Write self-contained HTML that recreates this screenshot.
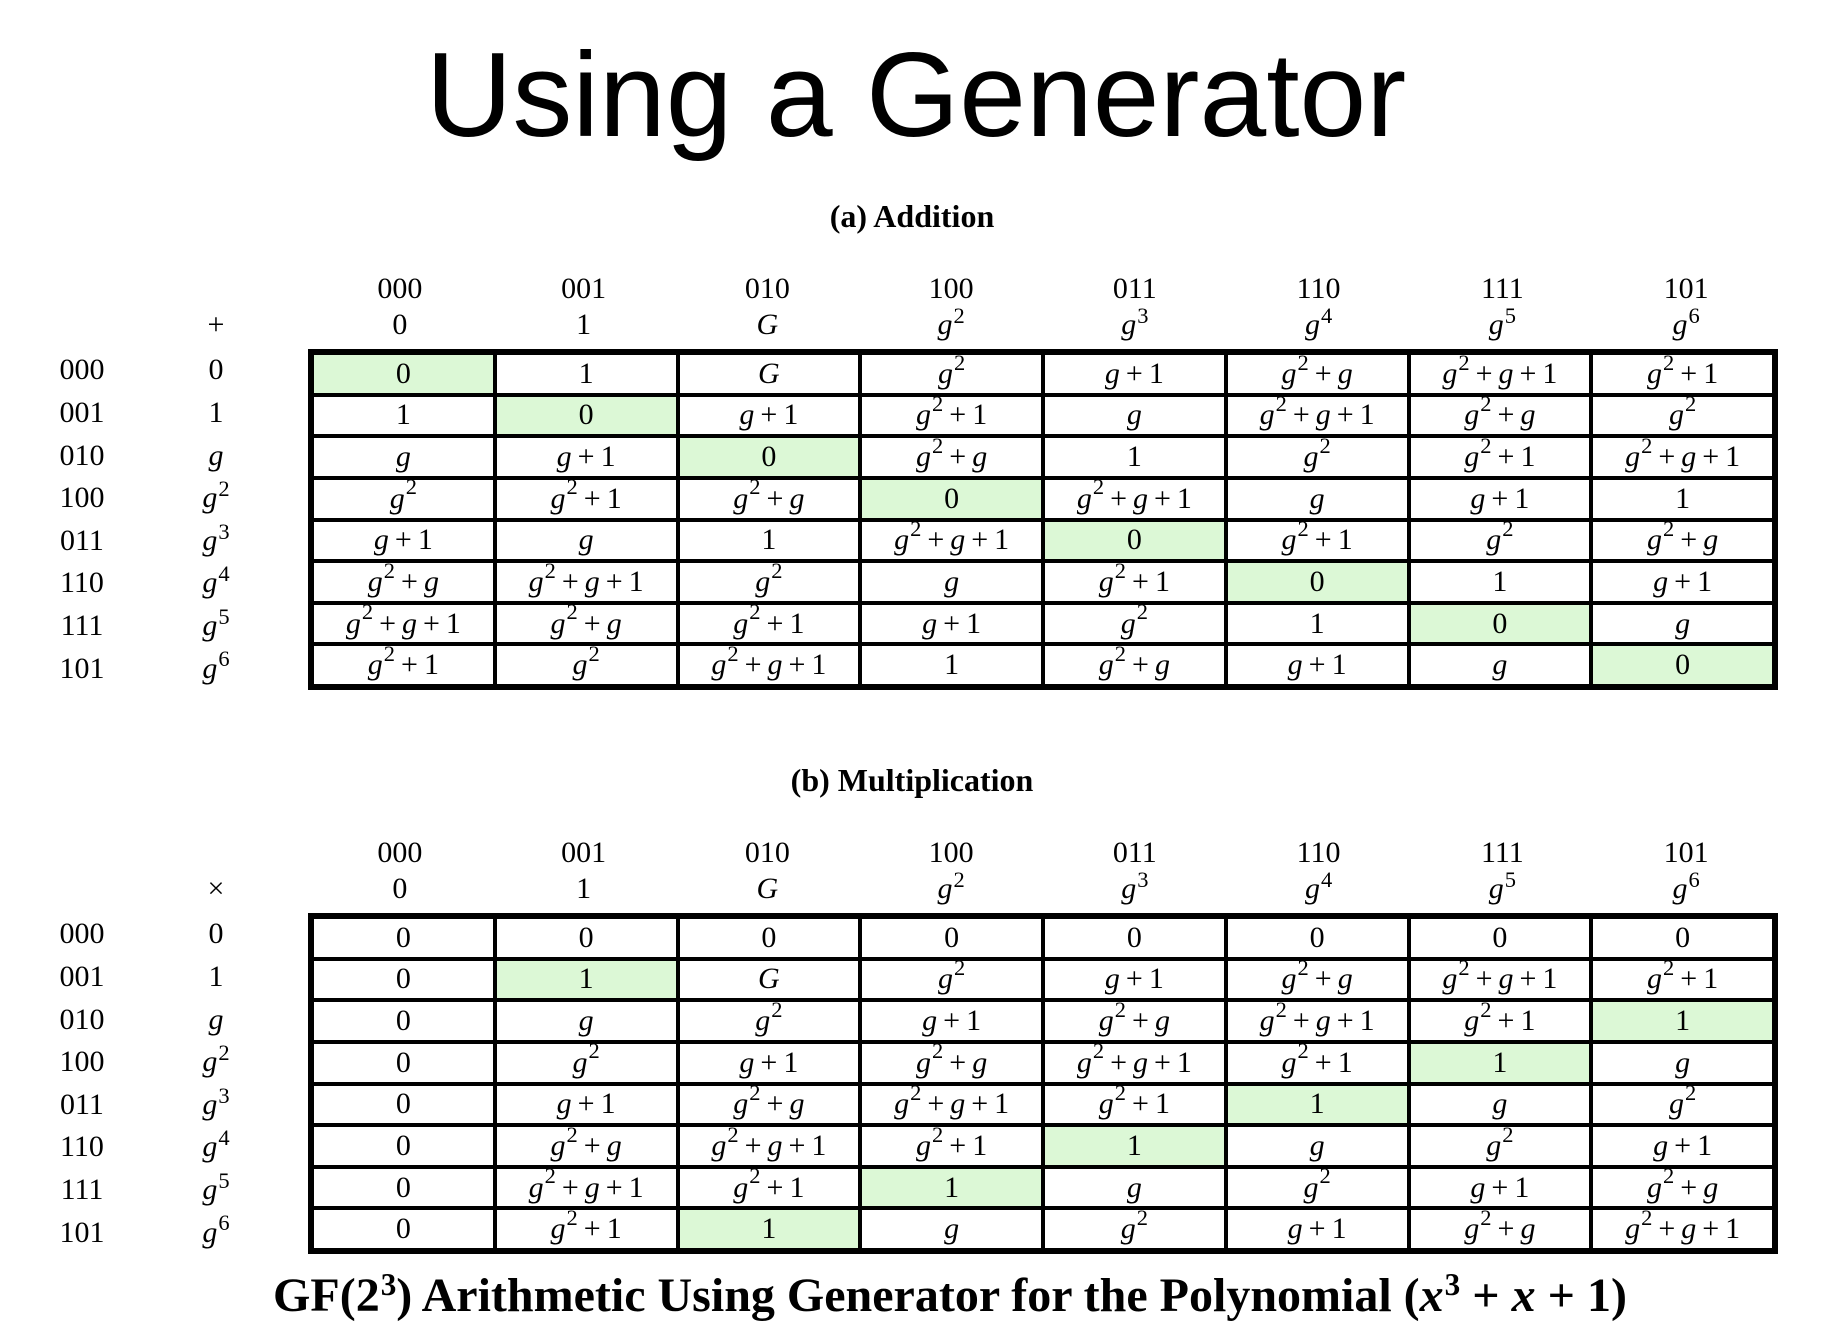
<!DOCTYPE html>
<html><head><meta charset="utf-8"><style>
body{margin:0;width:1848px;height:1330px;background:#fff;position:relative;overflow:hidden;font-family:"Liberation Serif",serif;color:#000}
.abs{position:absolute}
#title{left:0;width:1848px;top:30px;text-align:center;font-family:"Liberation Sans","Noto Sans CJK KR",sans-serif;font-size:120px;line-height:130px;margin-left:-8px}
.sub{left:0;width:1848px;text-align:center;font-weight:bold;font-size:32px;margin-left:-12px}
.t{font-size:30px;text-align:center;line-height:34px;white-space:nowrap}
i{font-style:italic}
sup{font-size:75%;vertical-align:0;position:relative;top:-0.5em;margin-left:1px}
.pl{margin:0 6px}
.grid{border:4px solid #000;box-sizing:border-box}
.cell{box-sizing:border-box;border:2px solid #000;display:flex;align-items:center;justify-content:center;font-size:30px;white-space:nowrap}
.green{background:#dcf8d6}
#caption{left:0;width:1848px;top:1268px;text-align:center;font-weight:bold;font-size:48px;margin-left:26px}
#caption sup{font-size:65%}
</style></head><body>
<div id="title" class="abs">Using a Generator</div>
<div class="abs sub" style="top:198px">(a) Addition</div>
<div class="abs sub" style="top:762px">(b) Multiplication</div>
<div id="caption" class="abs">GF(2<sup>3</sup>) Arithmetic Using Generator for the Polynomial (<i>x</i><sup>3</sup> + <i>x</i> + 1)</div>
<script>
const binLabels=["000","001","010","100","011","110","111","101"];
const genLabels=["0","1","g","g^2","g^3","g^4","g^5","g^6"];
const colGen=["0","1","G","g^2","g^3","g^4","g^5","g^6"];
const addRows=[
["0","1","G","g^2","g+1","g^2+g","g^2+g+1","g^2+1"],
["1","0","g+1","g^2+1","g","g^2+g+1","g^2+g","g^2"],
["g","g+1","0","g^2+g","1","g^2","g^2+1","g^2+g+1"],
["g^2","g^2+1","g^2+g","0","g^2+g+1","g","g+1","1"],
["g+1","g","1","g^2+g+1","0","g^2+1","g^2","g^2+g"],
["g^2+g","g^2+g+1","g^2","g","g^2+1","0","1","g+1"],
["g^2+g+1","g^2+g","g^2+1","g+1","g^2","1","0","g"],
["g^2+1","g^2","g^2+g+1","1","g^2+g","g+1","g","0"]];
const mulRows=[
["0","0","0","0","0","0","0","0"],
["0","1","G","g^2","g+1","g^2+g","g^2+g+1","g^2+1"],
["0","g","g^2","g+1","g^2+g","g^2+g+1","g^2+1","1"],
["0","g^2","g+1","g^2+g","g^2+g+1","g^2+1","1","g"],
["0","g+1","g^2+g","g^2+g+1","g^2+1","1","g","g^2"],
["0","g^2+g","g^2+g+1","g^2+1","1","g","g^2","g+1"],
["0","g^2+g+1","g^2+1","1","g","g^2","g+1","g^2+g"],
["0","g^2+1","1","g","g^2","g+1","g^2+g","g^2+g+1"]];
function fmt(s){
  return s.split("+").map(p=>{
    if(p==="G")return "<i>G</i>";
    if(p.startsWith("g")){const e=p.split("^")[1];return "<i>g</i>"+(e?"<sup>"+e+"</sup>":"");}
    return p;}).join('<span class="pl">+</span>');
}
function table(name,op,rows,top,highlight){
  const L=308,R=1778,T=top,B=top+341,cw=(R-L)/8,rh=(B-T)/8;
  function txt(x,y,w,html,nm){const d=document.createElement('div');d.className='abs t';
    d.style.left=(x-w/2)+'px';d.style.top=(y-17)+'px';d.style.width=w+'px';d.innerHTML=html;
    
    
    document.body.appendChild(d);}
  for(let c=0;c<8;c++){
    txt(L+cw*(c+.5),T-60,cw,binLabels[c],name+'-col-bin-'+c);
    txt(L+cw*(c+.5),T-24,cw,fmt(colGen[c]),name+'-col-gen-'+c);
  }
  txt(216,T-24,60,op,name+'-operator');
  for(let r=0;r<8;r++){
    txt(82,T+rh*(r+.5),100,binLabels[r],name+'-row-bin-'+r);
    txt(216,T+rh*(r+.5),60,fmt(genLabels[r]),name+'-row-gen-'+r);
  }
  const g=document.createElement('div');g.className='abs grid';
  g.style.cssText+=`left:${L}px;top:${T}px;width:${R-L}px;height:${B-T}px;display:grid;grid-template-columns:repeat(8,1fr);grid-template-rows:repeat(8,1fr)`;
  
  
  for(let r=0;r<8;r++)for(let c=0;c<8;c++){
    const d=document.createElement('div');d.className='cell'+(highlight(r,c,rows[r][c])?' green':'');
    d.innerHTML=fmt(rows[r][c]);
    
    
    g.appendChild(d);
  }
  document.body.appendChild(g);
}
table('addition','+',addRows,349,(r,c)=>r===c);
table('multiplication','×',mulRows,913,(r,c,v)=>v==="1");
</script>
</body></html>
